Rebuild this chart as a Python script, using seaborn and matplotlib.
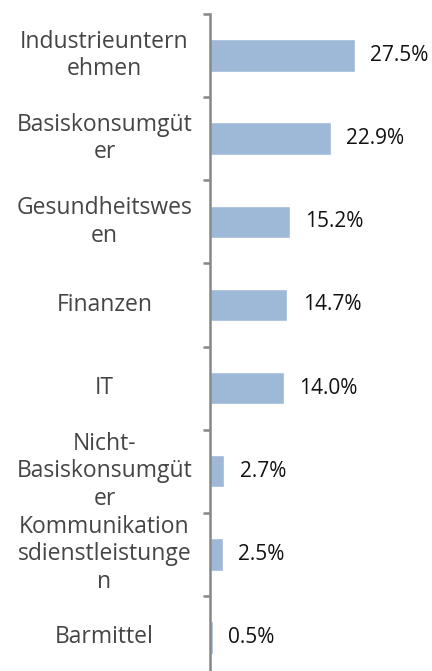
import matplotlib
matplotlib.use("Agg")
import matplotlib.pyplot as plt
import seaborn as sns
import pandas as pd

# --------------------------------------------------
# Data
# --------------------------------------------------

sectors = [
    "Industrieuntern\nehmen",
    "Basiskonsumgüt\ner",
    "Gesundheitswes\nen",
    "Finanzen",
    "IT",
    "Nicht-\nBasiskonsumgüt\ner",
    "Kommunikation\nsdienstleistunge\nn",
    "Barmittel",
]
weights = [27.5, 22.9, 15.2, 14.7, 14.0, 2.7, 2.5, 0.5]

df = pd.DataFrame({"sector": sectors, "weight": weights})

# --------------------------------------------------
# Style
# --------------------------------------------------

sns.set_style("white")
plt.rcParams["font.family"] = ["Open Sans", "DejaVu Sans"]

BAR_COLOR = "#9db9d7"
SPINE_COLOR = "#878787"

W, H = 432, 671
fig = plt.figure(figsize=(W / 100, H / 100), dpi=100)

# axes: left spine at x=210px, top at y=14px, bottom boundary below the figure
top_px, bottom_px = 14, 679
ax = fig.add_axes([210 / W, (H - bottom_px) / H, (W - 210) / W, (bottom_px - top_px) / H])

sns.barplot(
    data=df,
    y="sector",
    x="weight",
    orient="h",
    color=BAR_COLOR,
    width=0.39,
    saturation=1,
    ax=ax,
)

ax.set_xlim(0, (W - 210) / 5.27)
ax.set_ylim(len(sectors) - 0.5, -0.5)

# --------------------------------------------------
# Axes cosmetics
# --------------------------------------------------

for side in ["top", "right", "bottom"]:
    ax.spines[side].set_visible(False)
ax.spines["left"].set_color(SPINE_COLOR)
ax.spines["left"].set_linewidth(1.8)

ax.set_xticks([])
ax.set_xlabel("")
ax.set_ylabel("")

n = len(sectors)
ax.set_yticks([i - 0.5 for i in range(n + 1)])
ax.set_yticklabels([""] * (n + 1))
ax.set_yticks(range(n), minor=True)
ax.set_yticklabels(sectors, minor=True, ha="center", va="center",
                   linespacing=1.2, fontsize=16.5, color="#454545")
ax.tick_params(axis="y", which="major", length=5, width=1.8,
               color=SPINE_COLOR, direction="out", left=True)
ax.tick_params(axis="y", which="minor", length=0, pad=76)

ax.bar_label(
    ax.containers[0],
    labels=[f"{v:.1f}%" for v in weights],
    padding=11,
    fontsize=15,
    color="#111111",
)

plt.savefig("out.png", dpi=100)
plt.close()
